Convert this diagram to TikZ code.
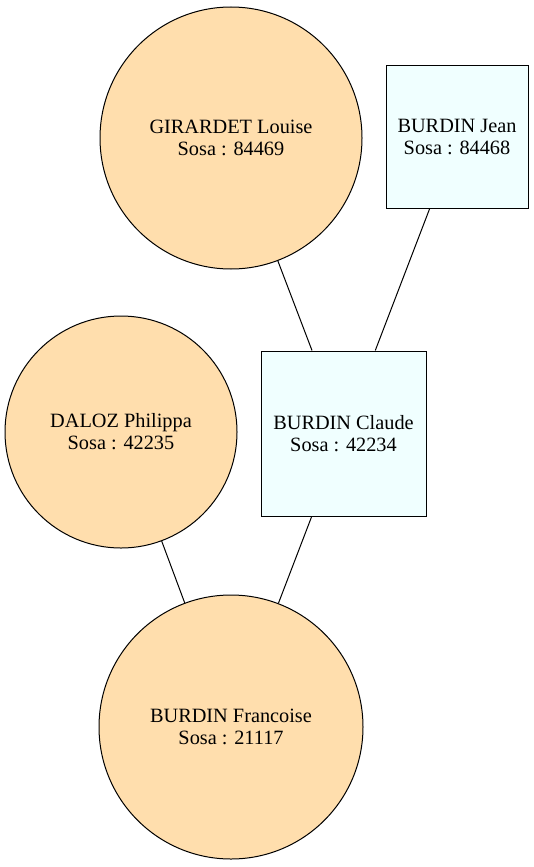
\documentclass[tikz,border=0pt]{standalone}
\usepackage{fontspec}
\setmainfont{Liberation Serif}
\definecolor{womanfill}{HTML}{FFDEAD}
\definecolor{manfill}{HTML}{F0FFFF}
\begin{document}
\begin{tikzpicture}[
        x=1pt, y=-1pt,
        woman/.style={circle, draw, line width=1pt, fill=womanfill, minimum size=#1, inner sep=0pt, align=center, font=\fontsize{20.3}{22}\selectfont},
        man/.style={rectangle, draw, line width=1pt, fill=manfill, minimum size=#1, inner sep=0pt, align=center, font=\fontsize{20.3}{22}\selectfont},
        link/.style={line width=1pt}
    ]
    \useasboundingbox (0,0) rectangle (534,867);

    % Grandparents
    \node[woman=262pt] (louise) at (231,138) {GIRARDET Louise\\Sosa : 84469};
    \node[man=142pt] (jean) at (457,137) {BURDIN Jean\\Sosa : 84468};

    % Parents
    \node[woman=232pt] (philippa) at (121,432) {DALOZ Philippa\\Sosa : 42235};
    \node[man=165pt] (claude) at (343.5,433.5) {BURDIN Claude\\Sosa : 42234};

    % Child
    \node[woman=264pt] (francoise) at (231,727) {BURDIN Francoise\\Sosa : 21117};

    % Links
    \draw[link] (louise) -- (claude);
    \draw[link] (jean) -- (claude);
    \draw[link] (philippa) -- (francoise);
    \draw[link] (claude) -- (francoise);
\end{tikzpicture}
\end{document}
